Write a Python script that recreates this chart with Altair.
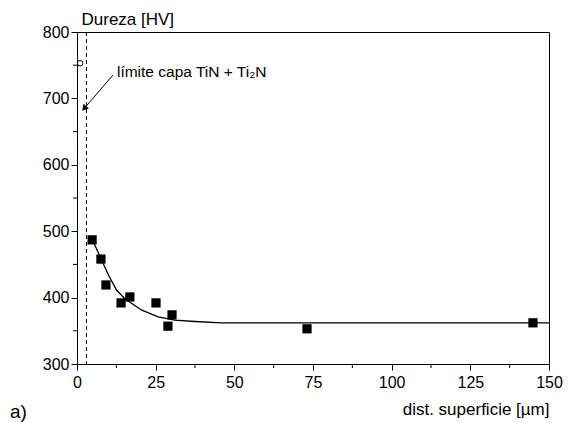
import altair as alt
import pandas as pd

# Measured points
dist = [4.8, 7.6, 9.2, 14.0, 16.8, 25.1, 28.9, 30.2, 73.1, 144.9]
hardness = [487, 458, 419, 392, 401, 392, 357, 374, 353, 362]

# Surface point (open circle)
surf_x = [1.0]
surf_y = [753]

# Fitted curve
curve_x = [4.9, 7.6, 10.0, 12.6, 15.3, 20.6, 25.8, 31.1, 37.5, 46.0, 60.0, 80.0, 100.0, 125.0, 150.0]
curve_y = [487, 459, 434, 411, 398, 381, 371, 366, 364, 362, 362, 362, 362, 362, 362]

# Layer limit
limit_x = [3.0]

# Annotation
label_text = ["límite capa TiN + Ti₂N"]
label_x = [12.7]
label_y = [740]
arrow_x = [11.4, 2.5]
arrow_y = [735, 686]

x_major = [0, 25, 50, 75, 100, 125, 150]
x_minor = [12.5, 37.5, 62.5, 87.5, 112.5, 137.5]
y_major = [300, 400, 500, 600, 700, 800]
y_minor = [350, 450, 550, 650, 750]

FONT = "Liberation Sans"

xs = alt.Scale(domain=[0, 150], nice=False, zero=False)
ys = alt.Scale(domain=[300, 800], nice=False, zero=False)

pts = pd.DataFrame({"x": dist, "y": hardness})
surf = pd.DataFrame({"x": surf_x, "y": surf_y})
curve = pd.DataFrame({"x": curve_x, "y": curve_y})
lim = pd.DataFrame({"x": limit_x})
lab = pd.DataFrame({"x": label_x, "y": label_y, "t": label_text})
arr = pd.DataFrame({"x": arrow_x, "y": arrow_y, "o": [0, 1]})
head = pd.DataFrame({"x": arrow_x[1:], "y": arrow_y[1:]})
xmin_df = pd.DataFrame({"x": x_minor})
ymin_df = pd.DataFrame({"y": y_minor})

x_axis = alt.Axis(
    values=x_major, format="d", tickSize=6, labelPadding=4,
    title="dist. superficie [µm]", titleAnchor="end", titleAlign="right",
    titleX=472, titleY=50, titleBaseline="alphabetic", titleFontWeight="normal",
    titleFontSize=17, orient="bottom", labelFlush=False, labelOverlap=False,
)
y_axis = alt.Axis(
    values=y_major, format="d", tickSize=6, labelPadding=2,
    title="Dureza [HV]", titleAngle=0, titleAlign="left",
    titleX=4, titleY=-8, titleBaseline="alphabetic", titleFontWeight="normal",
    titleFontSize=17, orient="left", labelFlush=False, labelOverlap=False,
)

squares = alt.Chart(pts).mark_point(shape="square", filled=True, color="black", size=85, opacity=1).encode(
    x=alt.X("x:Q", scale=xs, axis=x_axis),
    y=alt.Y("y:Q", scale=ys, axis=y_axis),
)

line = alt.Chart(curve).mark_line(color="black", strokeWidth=1.3).encode(
    x=alt.X("x:Q", scale=xs),
    y=alt.Y("y:Q", scale=ys),
)

circle = alt.Chart(surf).mark_point(shape="circle", filled=True, fill="white", stroke="black",
                                    strokeWidth=1, size=30, opacity=1).encode(
    x=alt.X("x:Q", scale=xs),
    y=alt.Y("y:Q", scale=ys),
)

rule = alt.Chart(lim).mark_rule(color="black", strokeDash=[4, 3], strokeWidth=1).encode(
    x=alt.X("x:Q", scale=xs),
)

# Minor ticks (outward, shorter than the major ones)
xminor = alt.Chart(xmin_df).mark_rule(color="black", strokeWidth=1, clip=False).encode(
    x=alt.X("x:Q", scale=xs), y=alt.value(332), y2=alt.value(336),
)
yminor = alt.Chart(ymin_df).mark_rule(color="black", strokeWidth=1, clip=False).encode(
    y=alt.Y("y:Q", scale=ys), x=alt.value(-4), x2=alt.value(0),
)

arrow_line = alt.Chart(arr).mark_line(color="black", strokeWidth=1).encode(
    x=alt.X("x:Q", scale=xs),
    y=alt.Y("y:Q", scale=ys),
    order="o:Q",
)

arrow_head = alt.Chart(head).mark_point(shape="triangle", filled=True, color="black", size=50,
                                        angle=220, opacity=1).encode(
    x=alt.X("x:Q", scale=xs),
    y=alt.Y("y:Q", scale=ys),
)

label = alt.Chart(lab).mark_text(align="left", baseline="middle", font=FONT, fontSize=15.5,
                                 color="black").encode(
    x=alt.X("x:Q", scale=xs),
    y=alt.Y("y:Q", scale=ys),
    text="t:N",
)

panel = alt.Chart(pd.DataFrame({"t": ["a)"]})).mark_text(
    align="left", baseline="middle", font=FONT, fontSize=19, color="black"
).encode(x=alt.value(-67), y=alt.value(380), text="t:N")

chart = alt.layer(squares, line, circle, rule, xminor, yminor, arrow_line, arrow_head, label, panel).properties(
    width=472, height=332,
    autosize=alt.AutoSizeParams(type="none"),
    padding={"left": 77, "top": 32, "right": 19, "bottom": 59},
    background="white",
).configure_view(
    stroke="black", strokeWidth=1
).configure_axis(
    grid=False, domainColor="black", tickColor="black", labelColor="black", titleColor="black",
    labelFont=FONT, titleFont=FONT, labelFontSize=16, titleFontSize=17, domainWidth=1, tickWidth=1,
)

chart.save("out.html", embed_options={"renderer": "svg", "actions": False})
